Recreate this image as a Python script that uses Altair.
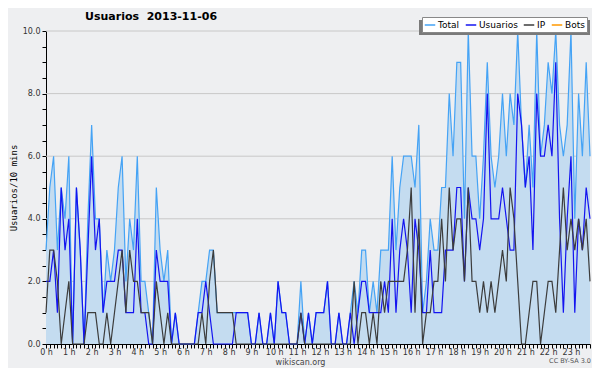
import altair as alt
import pandas as pd

# ---- data (one value per 10-minute slot, 144 slots) ----
series_names = ["Total", "Usuarios", "IP", "Bots"]
series_colors = ["#45a3f5", "#1414f0", "#3c3c3c", "#ff9900"]
hour_labels = [f"{h} h" for h in range(24)]
y_grid = [2, 4, 6, 8, 10]
title_text = "Usuarios\u00a0 2013-11-06"
y_title = "Usuarios/10 mins"
footer_site = "wikiscan.org"
footer_license = "CC BY-SA 3.0"

usuarios = [
    2, 2, 3, 1, 5, 3, 4, 0, 5, 3, 0, 3,
    6, 3, 4, 1, 2, 2, 2, 3, 3, 1, 1, 1,
    4, 1, 1, 0, 0, 3, 2, 2, 2, 0, 1, 0,
    0, 0, 0, 0, 1, 1, 2, 1, 0, 0, 0, 0,
    0, 0, 1, 1, 1, 1, 0, 0, 1, 0, 0, 1,
    0, 2, 1, 1, 0, 0, 0, 1, 0, 1, 0, 1,
    1, 1, 2, 0, 0, 1, 0, 0, 1, 0, 1, 2,
    2, 1, 1, 1, 1, 2, 1, 4, 1, 3, 4, 3,
    1, 4, 3, 1, 1, 3, 1, 1, 1, 3, 3, 3,
    5, 5, 2, 5, 4, 4, 3, 4, 8, 4, 4, 4,
    5, 4, 3, 3, 8, 7, 5, 6, 3, 8, 6, 6,
    7, 6, 9, 4, 1, 4, 6, 1, 4, 3, 5, 4,
]
ip = [
    1, 3, 3, 2, 0, 1, 2, 0, 0, 0, 0, 1,
    1, 1, 0, 0, 1, 0, 1, 2, 3, 1, 3, 2,
    2, 1, 1, 1, 0, 2, 1, 0, 1, 0, 0, 0,
    0, 0, 0, 0, 0, 1, 0, 2, 3, 1, 1, 1,
    1, 1, 0, 0, 0, 0, 0, 0, 0, 0, 0, 0,
    0, 0, 0, 0, 0, 0, 0, 1, 0, 0, 0, 0,
    0, 0, 0, 0, 0, 0, 0, 0, 0, 2, 0, 1,
    1, 0, 1, 0, 2, 1, 2, 2, 2, 2, 2, 3,
    5, 1, 4, 0, 1, 1, 2, 2, 4, 2, 5, 3,
    4, 4, 2, 5, 2, 2, 1, 2, 1, 2, 1, 2,
    3, 2, 5, 4, 2, 0, 0, 1, 2, 2, 0, 1,
    2, 2, 1, 3, 5, 3, 4, 3, 4, 3, 4, 2,
]
total = [
    3, 5, 6, 3, 5, 4, 6, 0, 5, 3, 0, 4,
    7, 4, 4, 1, 3, 2, 3, 5, 6, 2, 4, 3,
    6, 2, 2, 1, 0, 5, 3, 2, 3, 0, 1, 0,
    0, 0, 0, 0, 1, 2, 2, 3, 3, 1, 1, 1,
    1, 1, 1, 1, 1, 1, 0, 0, 1, 0, 0, 1,
    0, 2, 1, 1, 0, 0, 0, 2, 0, 1, 0, 1,
    1, 1, 2, 0, 0, 1, 0, 0, 1, 2, 1, 3,
    3, 1, 2, 1, 3, 3, 3, 6, 3, 5, 6, 6,
    6, 5, 7, 1, 2, 4, 3, 3, 5, 5, 8, 6,
    9, 9, 4, 10, 6, 6, 4, 6, 9, 6, 5, 6,
    8, 6, 8, 7, 10, 7, 5, 7, 5, 10, 6, 7,
    9, 8, 10, 7, 6, 7, 10, 4, 8, 6, 9, 6,
]

hours = [i / 6 for i in range(len(total))]


def frame(values, name):
    return pd.DataFrame({"hour": hours, "value": values, "series": [name] * len(values)})


df_total = frame(total, "Total")
df_users = frame(usuarios, "Usuarios")
df_ip = frame(ip, "IP")
df_grid = pd.DataFrame({"value": y_grid})

font = "DejaVu Sans"
labels_js = "[" + ",".join(f"'{s}'" for s in hour_labels) + "]"

x_enc = alt.X(
    "hour:Q",
    scale=alt.Scale(domain=[0, hours[-1]], nice=False, zero=False),
    axis=alt.Axis(
        values=hours,
        labelExpr=f"datum.value % 1 === 0 ? {labels_js}[datum.value] : ''",
        labelOverlap=False,
        labelFlush=False,
        labelFont=font,
        labelFontSize=8,
        labelColor="#333333",
        labelPadding=0,
        tickSize=4,
        tickColor="black",
        domainColor="black",
        grid=False,
        title=footer_site,
        titleFont=font,
        titleFontSize=8,
        titleFontWeight="normal",
        titleColor="#444444",
        titleX=254,
        titleY=18,
        titleBaseline="middle",
    ),
)
y_enc = alt.Y(
    "value:Q",
    scale=alt.Scale(domain=[0, 10], nice=False),
    axis=alt.Axis(
        values=[k * 0.5 for k in range(21)],
        labelExpr="datum.value % 2 === 0 ? format(datum.value, '.1f') : ''",
        labelFont=font,
        labelFontSize=8,
        labelColor="#333333",
        labelPadding=2,
        tickSize=4,
        tickColor="black",
        domainColor="black",
        grid=False,
        title=y_title,
        titleFont="DejaVu Sans Mono",
        titleFontSize=9,
        titleFontWeight="normal",
        titleColor="black",
        titlePadding=4,
    ),
)

color_enc = alt.Color(
    "series:N",
    scale=alt.Scale(domain=series_names, range=series_colors),
    legend=alt.Legend(
        title=None,
        orient="none",
        legendX=376,
        legendY=-14,
        direction="horizontal",
        symbolType="stroke",
        symbolSize=110,
        symbolStrokeWidth=1.5,
        labelFont=font,
        labelFontSize=9,
        labelColor="black",
        labelOffset=2,
        columnPadding=2,
        padding=2,
        fillColor="white",
        strokeColor="#888888",
    ),
)

grid = alt.Chart(df_grid).mark_rule(color="#c8c8c8", strokeWidth=1).encode(y=y_enc)
area = alt.Chart(df_total).mark_area(color="#c4dcf0", opacity=1).encode(x=x_enc, y=y_enc)
line_total = alt.Chart(df_total).mark_line(strokeWidth=1.2).encode(x=x_enc, y=y_enc, color=color_enc)
line_users = alt.Chart(df_users).mark_line(strokeWidth=1.2).encode(x=x_enc, y=y_enc, color=color_enc)
line_ip = alt.Chart(df_ip).mark_line(strokeWidth=1.2).encode(x=x_enc, y=y_enc, color=color_enc)

shadow = alt.Chart(pd.DataFrame({"a": [0]})).mark_rect(color="#7a7a7a").encode(
    x=alt.value(373), x2=alt.value(544), y=alt.value(-11), y2=alt.value(4)
)
credit = alt.Chart(pd.DataFrame({"t": [footer_license]})).mark_text(
    font=font, fontSize=6.5, color="#555555", align="right", baseline="middle"
).encode(text="t:N", x=alt.value(545), y=alt.value(330))
title = alt.Chart(pd.DataFrame({"t": [title_text]})).mark_text(
    font=font, fontSize=11, fontWeight="bold", color="black", align="left", baseline="middle"
).encode(text="t:N", x=alt.value(39), y=alt.value(-14))

chart = (
    alt.layer(grid, area, line_total, line_users, line_ip, shadow, credit, title)
    .properties(
        width=544,
        height=313,
        autosize=alt.AutoSizeParams(type="none"),
        padding={"left": 38, "top": 23, "right": 2, "bottom": 24},
        background="#eeeff1",
    )
    .configure_view(stroke=None, fill="#eeeff1")
)

chart.save("out.html", embed_options={"renderer": "svg", "actions": False})
